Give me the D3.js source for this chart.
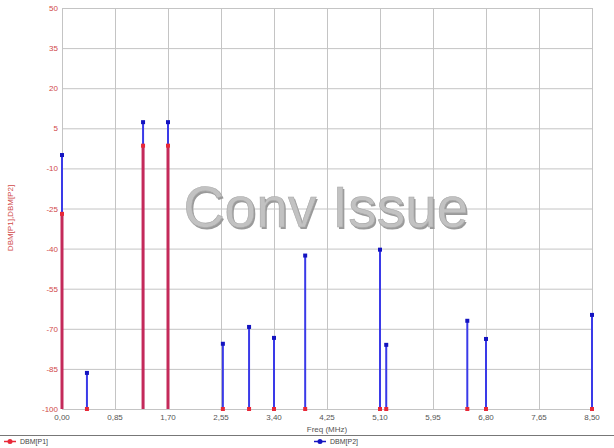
<!DOCTYPE html>
<html lang="en">
<head>
    <meta charset="UTF-8">
    <title>Freq spectrum</title>
    <script src="https://d3js.org/d3.v7.min.js"></script>
    <style>
        body { margin: 0; background: #fff; font-family: 'Liberation Sans', Arial, sans-serif; }
        .grid line { stroke: #c4c4c4; stroke-width: 1px; }
        .tick-x { font-size: 8px; fill: #555; }
        .tick-y { font-size: 8px; fill: #d04848; }
    </style>
</head>
<body>
<div id="chart"></div>
<script>
    // frequencies (MHz) and levels
    const freqs = [0.00, 0.40, 1.30, 1.70, 2.58, 3.00, 3.40, 3.90, 5.10, 5.20, 6.50, 6.80, 8.50];
    const p1 = [-27, -100, -1.5, -1.5, -100, -100, -100, -100, -100, -100, -100, -100, -100];
    const p2 = [-5, -86.5, 7.3, 7.3, -75.6, -69.3, -73.4, -42.6, -40.4, -76, -67, -73.8, -64.8];
    const xTicks = [0, 0.85, 1.70, 2.55, 3.40, 4.25, 5.10, 5.95, 6.80, 7.65, 8.50];
    const yTicks = [50, 35, 20, 5, -10, -25, -40, -55, -70, -85, -100];

    const width = 614, height = 448;
    const margin = { top: 8, right: 22, bottom: 39, left: 62 };

    const svg = d3.select("#chart").append("svg")
        .attr("width", width)
        .attr("height", height);

    const x = d3.scaleLinear().domain([0, 8.5]).range([margin.left, width - margin.right]);
    const y = d3.scaleLinear().domain([-100, 50]).range([height - margin.bottom, margin.top]);

    // grid
    const grid = svg.append("g").attr("class", "grid");
    grid.selectAll(".gx").data(xTicks).enter().append("line")
        .attr("x1", d => x(d) + 0.5).attr("x2", d => x(d) + 0.5)
        .attr("y1", y(50)).attr("y2", y(-100));
    grid.selectAll(".gy").data(yTicks).enter().append("line")
        .attr("x1", x(0)).attr("x2", x(8.5))
        .attr("y1", d => y(d) + 0.5).attr("y2", d => y(d) + 0.5);

    // tick labels
    svg.selectAll(".tick-x").data(xTicks).enter().append("text")
        .attr("class", "tick-x")
        .attr("x", d => x(d))
        .attr("y", y(-100) + 11)
        .attr("text-anchor", "middle")
        .text(d => d3.format(".2f")(d).replace(".", ","));
    svg.selectAll(".tick-y").data(yTicks).enter().append("text")
        .attr("class", "tick-y")
        .attr("x", x(0) - 4)
        .attr("y", d => y(d) + 3)
        .attr("text-anchor", "end")
        .text(d => d);

    // axis titles
    svg.append("text")
        .attr("x", (x(0) + x(8.5)) / 2)
        .attr("y", y(-100) + 23)
        .attr("text-anchor", "middle")
        .style("font-size", "8px").style("fill", "#555")
        .text("Freq (MHz)");
    svg.append("text")
        .attr("transform", `translate(13,218) rotate(-90)`)
        .attr("text-anchor", "middle")
        .style("font-size", "8px").style("fill", "#d04848")
        .text("DBM[P1],DBM[P2]");

    // watermark
    const wm = svg.append("text")
        .attr("x", 326).attr("y", 227)
        .attr("text-anchor", "middle")
        .style("font-size", "57px")
        .style("font-family", "'Liberation Sans', Arial, sans-serif")
        .text("Conv Issue");
    wm.clone(true).lower().attr("x", 327.5).attr("y", 228.5).style("fill", "#9a9a9a");
    wm.style("fill", "#c2c2c2").style("stroke", "#a8a8a8").style("stroke-width", 0.6);
    grid.lower();

    // P2 stems (blue)
    svg.selectAll(".s2").data(freqs).enter().append("line")
        .attr("x1", d => x(d)).attr("x2", d => x(d))
        .attr("y1", y(-100)).attr("y2", (d, i) => y(p2[i]))
        .attr("stroke", "#3a3ae8").attr("stroke-width", 2);
    svg.selectAll(".m2").data(freqs).enter().append("rect")
        .attr("x", d => x(d) - 2).attr("y", (d, i) => y(p2[i]) - 2)
        .attr("width", 4).attr("height", 4)
        .attr("fill", "#1414c0");

    // P1 stems (red)
    svg.selectAll(".s1").data(freqs).enter().append("line")
        .attr("x1", d => x(d)).attr("x2", d => x(d))
        .attr("y1", y(-100)).attr("y2", (d, i) => y(p1[i]))
        .attr("stroke", "#c42a5a").attr("stroke-width", 3);
    svg.selectAll(".m1").data(freqs).enter().append("rect")
        .attr("x", d => x(d) - 2).attr("y", (d, i) => y(p1[i]) - 2)
        .attr("width", 4).attr("height", 4)
        .attr("fill", "#e82838");

    // legend
    svg.append("line").attr("x1", 0).attr("x2", width)
        .attr("y1", 435.5).attr("y2", 435.5)
        .attr("stroke", "#777").attr("stroke-width", 1);
    const legend = [
        { name: "DBM[P1]", color: "#e82838", lx: 4 },
        { name: "DBM[P2]", color: "#1414c0", lx: 314 }
    ];
    const lg = svg.selectAll(".lg").data(legend).enter().append("g");
    lg.append("line")
        .attr("x1", d => d.lx).attr("x2", d => d.lx + 12)
        .attr("y1", 441.5).attr("y2", 441.5)
        .attr("stroke", d => d.color).attr("stroke-width", 1.5);
    lg.append("circle")
        .attr("cx", d => d.lx + 6).attr("cy", 441.5).attr("r", 2.5)
        .attr("fill", d => d.color);
    lg.append("text")
        .attr("x", d => d.lx + 16).attr("y", 444)
        .style("font-size", "7px").style("fill", "#444")
        .text(d => d.name);
</script>
</body>
</html>
